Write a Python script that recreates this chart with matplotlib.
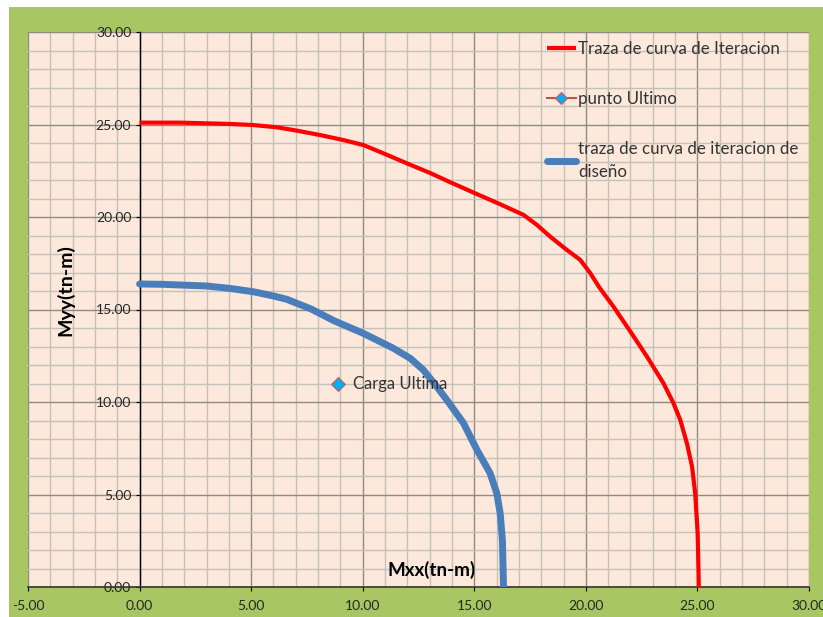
import matplotlib
matplotlib.use("Agg")
import matplotlib.pyplot as plt
from matplotlib.patches import Rectangle
from matplotlib.ticker import MultipleLocator, FormatStrFormatter

# Interaction diagram: biaxial moment curves (tn-m)
mxx_iter = [0.0, 1.81, 4.05, 5.1, 6.15, 7.04, 8.09, 9.13, 10.03, 10.93, 11.98, 13.02,
            13.92, 15.04, 16.16, 17.21, 17.81, 18.40, 19.15, 19.75, 20.2, 20.6,
            21.24, 22.0, 22.74, 23.48, 23.93, 24.23, 24.53, 24.76, 24.9, 25.01,
            25.05, 25.06]
myy_iter = [25.1, 25.1, 25.03, 24.97, 24.85, 24.67, 24.43, 24.16, 23.89, 23.44, 22.9,
            22.38, 21.88, 21.28, 20.69, 20.11, 19.57, 18.94, 18.22, 17.68, 16.96,
            16.2, 15.15, 13.8, 12.45, 11.01, 9.93, 9.03, 7.77, 6.5, 5.06, 2.9,
            0.8, 0.0]

mxx_design = [0.0, 1.06, 3.0, 4.05, 5.1, 6.0, 6.6, 7.7, 8.7, 10.03, 11.38, 12.13,
              12.72, 13.32, 13.77, 14.52, 15.12, 15.71, 16.01, 16.16, 16.26, 16.31]
myy_design = [16.38, 16.36, 16.27, 16.14, 15.96, 15.73, 15.55, 15.02, 14.4, 13.71,
              12.9, 12.36, 11.73, 10.83, 10.11, 8.85, 7.41, 6.15, 5.06, 3.98, 2.54,
              0.0]

mxx_ult = [8.9]
myy_ult = [11.0]

label_iter = "Traza de curva de Iteracion"
label_ult = "punto Ultimo"
label_design = "traza de curva de iteracion de\ndiseño"
label_point = "Carga Ultima"

plt.rcParams['font.family'] = ['Lato', 'DejaVu Sans']

W, H = 823, 617
fig = plt.figure(figsize=(W / 100, H / 100), dpi=100, facecolor="white")
fig.patches.append(Rectangle((9 / W, 0), 1 - 9 / W, (H - 7) / H,
                             transform=fig.transFigure, facecolor="#a8c662",
                             edgecolor="none", zorder=-10))

ax = fig.add_axes([28 / W, 30 / H, 781 / W, 555 / H])
ax.set_facecolor("#fde9db")
ax.set_xlim(-5, 30)
ax.set_ylim(0, 30)

ax.xaxis.set_major_locator(MultipleLocator(5))
ax.yaxis.set_major_locator(MultipleLocator(5))
ax.xaxis.set_minor_locator(MultipleLocator(1))
ax.yaxis.set_minor_locator(MultipleLocator(1))
ax.xaxis.set_major_formatter(FormatStrFormatter("%.2f"))
ax.yaxis.set_major_formatter(FormatStrFormatter("%.2f"))

ax.grid(which="minor", color="#c4c0bc", linewidth=1.0)
ax.grid(which="major", color="#8e8a86", linewidth=1.0)
ax.set_axisbelow(True)

ax.spines["left"].set_position(("data", 0))
ax.spines["left"].set_color("black")
ax.spines["left"].set_linewidth(1.0)
ax.spines["bottom"].set_color("#333333")
ax.spines["bottom"].set_linewidth(1.2)
ax.spines["top"].set_visible(False)
ax.spines["right"].set_visible(False)

ax.tick_params(which="minor", length=0)
ax.tick_params(axis="x", which="major", direction="out", length=3, pad=6,
               labelsize=10, labelcolor="#262626", color="black")
ax.tick_params(axis="y", which="major", direction="out", length=3, pad=3,
               labelsize=10, labelcolor="#262626", color="black")

ax.plot(mxx_iter, myy_iter, color="#ff0000", linewidth=3.0, label=label_iter,
        solid_capstyle="butt", solid_joinstyle="round", zorder=3)
ax.plot(mxx_ult, myy_ult, color="#c0504d", linewidth=1.5, marker="D",
        markersize=7.5, markerfacecolor="#00b0f0", markeredgecolor="#e05555",
        markeredgewidth=0.8, label=label_ult, zorder=4)
ax.plot(mxx_design, myy_design, color="#4a7ebb", linewidth=5.0, label=label_design,
        solid_capstyle="round", solid_joinstyle="round", zorder=3)

ax.annotate(label_point, xy=(mxx_ult[0], myy_ult[0]), xytext=(11, 0),
            textcoords="offset points", va="center", ha="left",
            fontsize=12, color="#333333", zorder=5)

fig.text(432 / W, 1 - 570 / H, "Mxx(tn-m)", ha="center", va="center",
         fontsize=13.5, fontweight="bold", color="black")
fig.text(65 / W, 1 - 290 / H, "Myy(tn-m)", ha="center", va="center",
         rotation=90, fontsize=14, fontweight="bold", color="black")

leg = fig.legend(loc="upper left", bbox_to_anchor=(547 / W, 1 - 41 / H),
                 frameon=False, fontsize=12.2, labelspacing=2.0,
                 handlelength=1.7, handletextpad=0.12, borderpad=0,
                 borderaxespad=0, markerscale=0.8)
for t in leg.get_texts():
    t.set_color("#333333")
    t.set_linespacing(1.55)

fig.savefig("out.png", dpi=100, facecolor=fig.get_facecolor())
